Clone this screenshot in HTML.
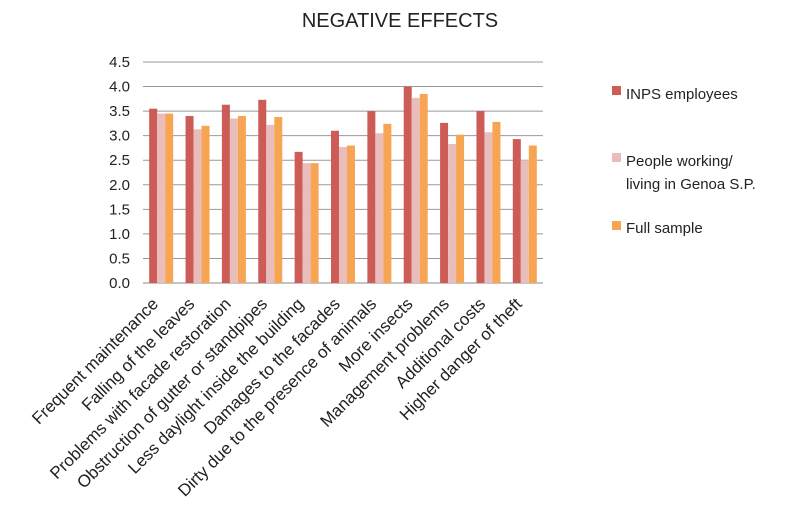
<!DOCTYPE html>
<html><head><meta charset="utf-8"><style>
body{margin:0;background:#fff;}
svg text{font-family:"Liberation Sans",sans-serif;fill:#222;}
</style></head><body>
<svg id="chart" width="787" height="513">
<text x="400" y="27" text-anchor="middle" font-size="20">NEGATIVE EFFECTS</text>
<g id="grid"></g><g id="bars"></g><g id="xlabels"></g>
<g>
<rect x="612" y="86" width="9" height="9" fill="#cd5c57"/>
<text x="626" y="99" font-size="15">INPS employees</text>
<rect x="612" y="153" width="9" height="9" fill="#e8bdbc"/>
<text x="626" y="166" font-size="15">People working/</text>
<text x="626" y="189" font-size="15">living in Genoa S.P.</text>
<rect x="612" y="221" width="9" height="9" fill="#f8a553"/>
<text x="626" y="233" font-size="15">Full sample</text>
</g>
</svg>
<script>
const categories=["Frequent maintenance","Falling of the leaves","Problems with facade restoration","Obstruction of gutter or standpipes","Less daylight inside the building","Damages to the facades","Dirty due to the presence of animals","More insects","Management problems","Additional costs","Higher danger of theft"];
const inps=[3.55,3.4,3.63,3.73,2.67,3.1,3.5,4.0,3.26,3.5,2.93];
const people=[3.45,3.13,3.35,3.22,2.44,2.77,3.05,3.77,2.83,3.07,2.5];
const full=[3.45,3.2,3.4,3.38,2.44,2.8,3.24,3.85,3.02,3.28,2.8];
const ticks=["0.0","0.5","1.0","1.5","2.0","2.5","3.0","3.5","4.0","4.5"];
const NS="http://www.w3.org/2000/svg";
const L=143,R=543,T=62,B=283,MAX=4.5;
const y=v=>B-(v/MAX)*(B-T);
const cw=(R-L)/categories.length;
const x=i=>L+i*cw;
function mk(tag,attrs,parent){const e=document.createElementNS(NS,tag);for(const k in attrs)e.setAttribute(k,attrs[k]);parent.appendChild(e);return e;}
const grid=document.getElementById('grid');
ticks.forEach(t=>{const v=parseFloat(t);const yy=y(v);
 const ln=mk('line',{x1:L,x2:R,y1:yy,y2:yy,stroke:v===0?'#888':'#999','stroke-width':1},grid);
 
 
 const tx=mk('text',{x:L-13,y:yy+5,'text-anchor':'end','font-size':15},grid);tx.textContent=t;
 
 
});
const bars=document.getElementById('bars');
const series=[[inps,'#cd5c57','inps'],[people,'#e8bdbc','people'],[full,'#f8a553','full']];
const bw=8;
categories.forEach((c,i)=>{
 const gx=x(i)+cw/2-bw*1.5;
 series.forEach((s,j)=>{
  const r=mk('rect',{x:gx+j*bw,y:y(s[0][i]),width:bw,height:B-y(s[0][i]),fill:s[1]},bars);
  
  
 });
 const cx=x(i)+cw/2-2, cy=B+22;
 const t=mk('text',{x:cx,y:cy,'text-anchor':'end','font-size':17,transform:'rotate(-45 '+cx+' '+cy+')'},document.getElementById('xlabels'));
 t.textContent=c;
 
 
});
</script>
</body></html>
